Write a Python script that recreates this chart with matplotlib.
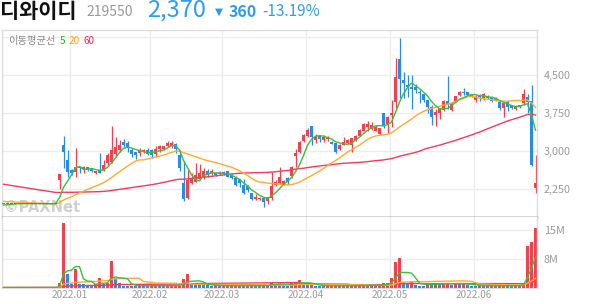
import numpy as np
import pandas as pd
import matplotlib
matplotlib.use('Agg')
import matplotlib.pyplot as plt

plt.rcParams['font.family'] = ['Noto Sans CJK KR', 'DejaVu Sans']

# ---------------- data ----------------
holidays = ['2021-12-31', '2022-01-31', '2022-02-01', '2022-02-02', '2022-03-01',
            '2022-03-09', '2022-05-05', '2022-06-01', '2022-06-06']
dates = [d for d in pd.bdate_range('2021-12-08', '2022-06-24')
         if d.strftime('%Y-%m-%d') not in holidays]

month_labels = ['2022.01', '2022.02', '2022.03', '2022.04', '2022.05', '2022.06']

# closes before the visible window (needed for the 20/60-day averages)
history_close = [2750, 2720, 2780, 2700, 2680, 2740, 2690, 2650, 2710, 2680, 2720, 2700, 2660, 2690, 2700,
                 2650, 2620, 2600, 2580, 2560, 2540, 2520, 2500, 2480, 2470, 2450, 2440, 2420, 2400, 2390,
                 2380, 2360, 2340, 2320, 2300, 2280, 2260, 2240, 2220, 2200,
                 2150, 2100, 2050, 2000, 1960,
                 2050, 2080, 2060, 2040, 2020, 2030, 2050, 2040, 2020, 2010, 1950, 1930, 1920, 1910, 1940]

opens = [1960]*14 + [
    2420, 3118, 2822, 2625, 2590, 2690, 2650, 2680, 2640, 2560, 2620, 2630, 2755, 2790, 2950, 3020,
    3180, 3150, 3020, 2980, 2970, 2990, 3020, 3010, 2950, 3030, 3040, 3100, 3090, 3140, 2920,
    2360, 2070, 2370, 2390, 2440, 2490, 2610, 2560, 2570, 2540,
    2590, 2600, 2530, 2460, 2440, 2330, 2310, 2165, 2045, 2050,
    2065, 2020, 2065, 2330, 2360, 2330, 2460, 2505, 2900, 2985, 3190, 3300, 3495,
    3220, 3295, 3220, 3230, 3185, 3150, 3040, 3120, 3150, 3120, 3220, 3300,
    3400, 3470, 3430, 3400, 3335, 3745, 3530, 3710, 3975, 4810,
    4400, 4300, 4270, 4255, 4170, 4125, 4005, 3860, 3710, 3745, 3810, 3990, 3810, 3975, 4105, 4170,
    4160, 4125, 4010, 4105, 4040, 4090, 4070, 4050, 3975, 3845, 3975, 3905, 3820, 3905,
    3950, 4070, 3990, 2260]
highs = [1960]*14 + [
    2550, 3300, 3020, 2650, 3060, 2700, 2700, 2690, 2660, 2610, 2960, 2820, 2960, 3490, 3280, 3220,
    3230, 3200, 3060, 2990, 3050, 3040, 3050, 3040, 3100, 3110, 3100, 3190, 3200, 3160, 3010,
    2800, 2620, 2560, 2760, 2750, 2660, 2640, 2650, 2590, 2600,
    2600, 2610, 2540, 2500, 2450, 2450, 2320, 2170, 2160, 2090,
    2070, 2090, 2580, 2430, 2680, 2430, 2480, 2700, 3030, 3200, 3330, 3450, 3500,
    3330, 3320, 3310, 3300, 3200, 3160, 3140, 3270, 3240, 3260, 3310, 3430,
    3560, 3600, 3580, 3510, 3460, 3760, 3700, 4000, 4830, 5240,
    4560, 4500, 4500, 4330, 4200, 4130, 4010, 3900, 3820, 3850, 4000, 4490, 3960, 4090, 4180, 4240,
    4170, 4130, 4100, 4120, 4150, 4100, 4080, 4060, 3980, 3960, 4000, 3910, 3900, 3910,
    4230, 4130, 4310, 2920]
lows = [1960]*14 + [
    2240, 2660, 2493, 2520, 2490, 2570, 2560, 2610, 2590, 2550, 2560, 2610, 2720, 2770, 2890, 2990,
    3070, 2990, 2890, 2840, 2900, 2960, 2920, 2860, 2880, 2990, 3020, 3080, 3060, 2960, 2600,
    2020, 2060, 2340, 2380, 2420, 2450, 2480, 2520, 2500, 2520,
    2530, 2480, 2440, 2300, 2290, 2150, 2200, 2040, 2040, 2040,
    1900, 1960, 2040, 2310, 2340, 2320, 2350, 2460, 2690, 2960, 3170, 3280, 3120,
    3160, 3180, 3170, 3200, 3130, 2970, 3020, 3110, 3140, 2980, 3200, 3290,
    3390, 3400, 3410, 3390, 3310, 3460, 3350, 3480, 3840, 4040,
    4050, 4060, 3830, 4150, 3950, 3960, 3750, 3520, 3500, 3630, 3790, 3830, 3780, 3960, 4080, 4110,
    4090, 4060, 3960, 3990, 4000, 4030, 3960, 3980, 3800, 3670, 3780, 3830, 3810, 3850,
    3900, 3760, 2700, 2170]
closes = [1960]*14 + [
    2540, 2986, 2580, 2570, 2680, 2660, 2690, 2630, 2600, 2600, 2570, 2720, 2920, 3020, 3080, 3120,
    3110, 3050, 2940, 2930, 3020, 3010, 2940, 2930, 3040, 3090, 3090, 3150, 3160, 3040, 2660,
    2060, 2430, 2460, 2530, 2570, 2610, 2520, 2610, 2530, 2570,
    2545, 2490, 2470, 2330, 2375, 2180, 2230, 2045, 2085, 2080,
    2000, 2085, 2310, 2395, 2490, 2415, 2395, 2680, 2970, 3180, 3320, 3415, 3270,
    3280, 3230, 3270, 3280, 3140, 2990, 3120, 3185, 3220, 3250, 3300, 3415,
    3530, 3535, 3515, 3480, 3450, 3495, 3665, 3760, 4470, 4415,
    4350, 4255, 4220, 4200, 4140, 4005, 3875, 3675, 3775, 3845, 3995, 3905, 3955, 4085, 4170, 4140,
    4110, 4070, 4070, 4070, 4125, 4040, 3990, 3990, 3845, 3955, 3865, 3840, 3875, 3860,
    4120, 3975, 2730, 2370]
volumes_m = [0]*14 + [
    1.15, 16.9, 3.6, 1.0, 4.7, 1.0, 0.9, 0.7, 0.7, 0.8, 2.4, 0.9, 1.2, 6.9, 2.4, 1.2,
    0.5, 0.45, 0.5, 0.45, 0.55, 0.5, 0.4, 0.45, 0.6, 0.5, 0.45, 0.5, 0.55, 0.6, 0.7,
    2.1, 3.5, 1.2, 1.0, 0.8, 0.7, 0.6, 0.5, 0.55, 0.45,
    0.5, 0.45, 0.5, 0.6, 0.5, 0.55, 0.45, 0.6, 0.4, 0.35,
    0.8, 0.5, 1.4, 0.9, 1.0, 0.6, 0.5, 1.3, 1.35, 1.9, 0.9, 0.7, 0.8,
    0.5, 0.45, 0.4, 0.45, 0.5, 0.6, 0.45, 0.5, 0.4, 0.5, 0.45, 0.55,
    0.8, 0.5, 0.55, 0.45, 0.5, 1.2, 1.25, 2.5, 6.7, 7.8,
    1.4, 1.2, 1.7, 0.7, 0.5, 0.45, 1.2, 0.7, 1.2, 0.8, 1.2, 1.25, 0.7, 1.2, 0.8, 1.2,
    0.6, 0.5, 0.45, 0.6, 0.5, 0.45, 0.5, 0.4, 0.5, 0.55, 0.45, 0.4, 0.5, 0.45,
    1.2, 10.8, 11.9, 15.4]

price_ticks = [2250, 3000, 3750, 4500]
price_tick_labels = ['2,250', '3,000', '3,750', '4,500']
vol_ticks = [7.5e6, 15e6]
vol_tick_labels = ['8M', '15M']

# ---------------- styles ----------------
RED = '#f2404c'
BLUE = '#2a8ae8'
C_MA5 = '#3cbf3c'
C_MA20 = '#ffaa2e'
C_MA60 = '#f23a5e'
GRID = '#ececec'
TXT = '#9a9a9a'
HEAD_BLUE = '#2f9bf0'

o = np.array(opens, float); h = np.array(highs, float)
l = np.array(lows, float); c = np.array(closes, float)
v = np.array(volumes_m, float) * 1e6
n = len(c)
assert len(dates) == n == len(o) == len(h) == len(l) == len(v)
x = np.arange(n)

allc = pd.Series(list(history_close) + list(closes), dtype=float)
ma = {w: allc.rolling(w).mean().values[len(history_close):] for w in (5, 20, 60)}
vma = {w: np.convolve(v, np.ones(w) / w)[:n] for w in (5, 20, 60)}

month_idx = [i for i in range(1, n) if dates[i].month != dates[i - 1].month]

W, H = 594, 304
fig = plt.figure(figsize=(W / 100, H / 100), dpi=100)
axp = fig.add_axes([2 / W, 1 - 217 / H, 535 / W, 187 / H])
axv = fig.add_axes([2 / W, 1 - 287.5 / H, 535 / W, 70.5 / H])

xlim = (-0.375, n - 0.625)
for ax in (axp, axv):
    ax.set_xlim(*xlim)
    for xi in month_idx:
        ax.axvline(xi - 0.4, color=GRID, lw=1, zorder=0)
    ax.tick_params(length=0)
    for s in ('left', 'right', 'top'):
        ax.spines[s].set_color('#dddddd')
        ax.spines[s].set_linewidth(1)

# ---- price panel ----
axp.set_ylim(1697, 5389)
for yv in price_ticks + [5250]:
    axp.axhline(yv, color=GRID, lw=1, zorder=0)
axp.text(2 / 535, 10 / 187, '©PAXNet', transform=axp.transAxes, fontsize=10.5,
         fontweight='bold', color='#bdbdbd', alpha=0.7, va='center', ha='left',
         family=['DejaVu Sans'], zorder=1)
up = c > o
col = np.where(up, RED, BLUE)
axp.vlines(x, l, h, colors=col, lw=0.9, zorder=2)
bh = np.abs(c - o)
minh = 28
bb = np.where(bh < minh, (o + c) / 2 - minh / 2, np.minimum(o, c))
axp.bar(x, np.maximum(bh, minh), 0.74, bottom=bb, color=col, lw=0, zorder=2)
axp.plot(x, ma[60], color=C_MA60, lw=1.0, zorder=3)
axp.plot(x, ma[20], color=C_MA20, lw=1.0, zorder=3)
axp.plot(x, ma[5], color=C_MA5, lw=1.0, zorder=3)
halted = (h == l)
axp.bar(x[halted], np.full(halted.sum(), minh), 0.74, bottom=c[halted] - minh / 2,
        color=BLUE, lw=0, zorder=4)

axp.yaxis.tick_right()
axp.set_yticks(price_ticks)
axp.set_yticklabels(price_tick_labels, fontsize=7.8, color=TXT)
axp.tick_params(axis='y', pad=5)
axp.set_xticks([])
axp.spines['bottom'].set_color('#333333')
axp.spines['bottom'].set_linewidth(1)

ly = 1 - 11 / 187
axp.text(6 / 535, ly, '이동평균선', transform=axp.transAxes, fontsize=7.4,
         color='#8a8a8a', va='center', ha='left')
axp.text(58 / 535, ly, '5', transform=axp.transAxes, fontsize=7.2,
         color='#22b022', va='center', ha='left')
axp.text(67 / 535, ly, '20', transform=axp.transAxes, fontsize=7.2,
         color='#ff9f1a', va='center', ha='left')
axp.text(82 / 535, ly, '60', transform=axp.transAxes, fontsize=7.2,
         color='#f2285a', va='center', ha='left')

# ---- volume panel ----
axv.set_ylim(0, 18.4e6)
for yv in vol_ticks:
    axv.axhline(yv, color=GRID, lw=1, zorder=0)
vup = np.r_[False, v[1:] > v[:-1]]
vcol = np.where(vup, RED, BLUE)
axv.bar(x, v, 0.74, color=vcol, lw=0, zorder=2)
axv.plot(x, vma[60], color=C_MA60, lw=1.0, zorder=3)
axv.plot(x, vma[20], color=C_MA20, lw=1.0, zorder=3)
axv.plot(x, vma[5], color=C_MA5, lw=1.0, zorder=3)
axv.yaxis.tick_right()
axv.set_yticks(vol_ticks)
axv.set_yticklabels(vol_tick_labels, fontsize=7.8, color=TXT)
axv.tick_params(axis='y', pad=5)
axv.set_xticks([i - 0.4 for i in month_idx])
axv.set_xticklabels(month_labels, fontsize=7.2, color=TXT)
axv.tick_params(axis='x', pad=2)
axv.spines['top'].set_visible(False)
axv.spines['bottom'].set_color('#dddddd')

# ---- header ----
fig.text(0 / W, 1 - 11 / H, '디와이디', fontsize=15, fontweight='bold', color='#111111',
         va='center', ha='left')
fig.text(86 / W, 1 - 12 / H, '219550', fontsize=10, color='#999999', va='center', ha='left')
fig.text(147 / W, 1 - 10.5 / H, '2,370', fontsize=17, color=HEAD_BLUE, va='center', ha='left')
fig.text(215 / W, 1 - 12 / H, '▼', fontsize=7.5, color=HEAD_BLUE, va='center', ha='left',
         family=['DejaVu Sans'])
fig.text(229 / W, 1 - 12 / H, '360', fontsize=11.5, color=HEAD_BLUE, va='center', ha='left',
         fontweight='bold')
fig.text(262 / W, 1 - 12 / H, '-13.19%', fontsize=11, color=HEAD_BLUE, va='center', ha='left')

fig.savefig('out.png', dpi=100)
